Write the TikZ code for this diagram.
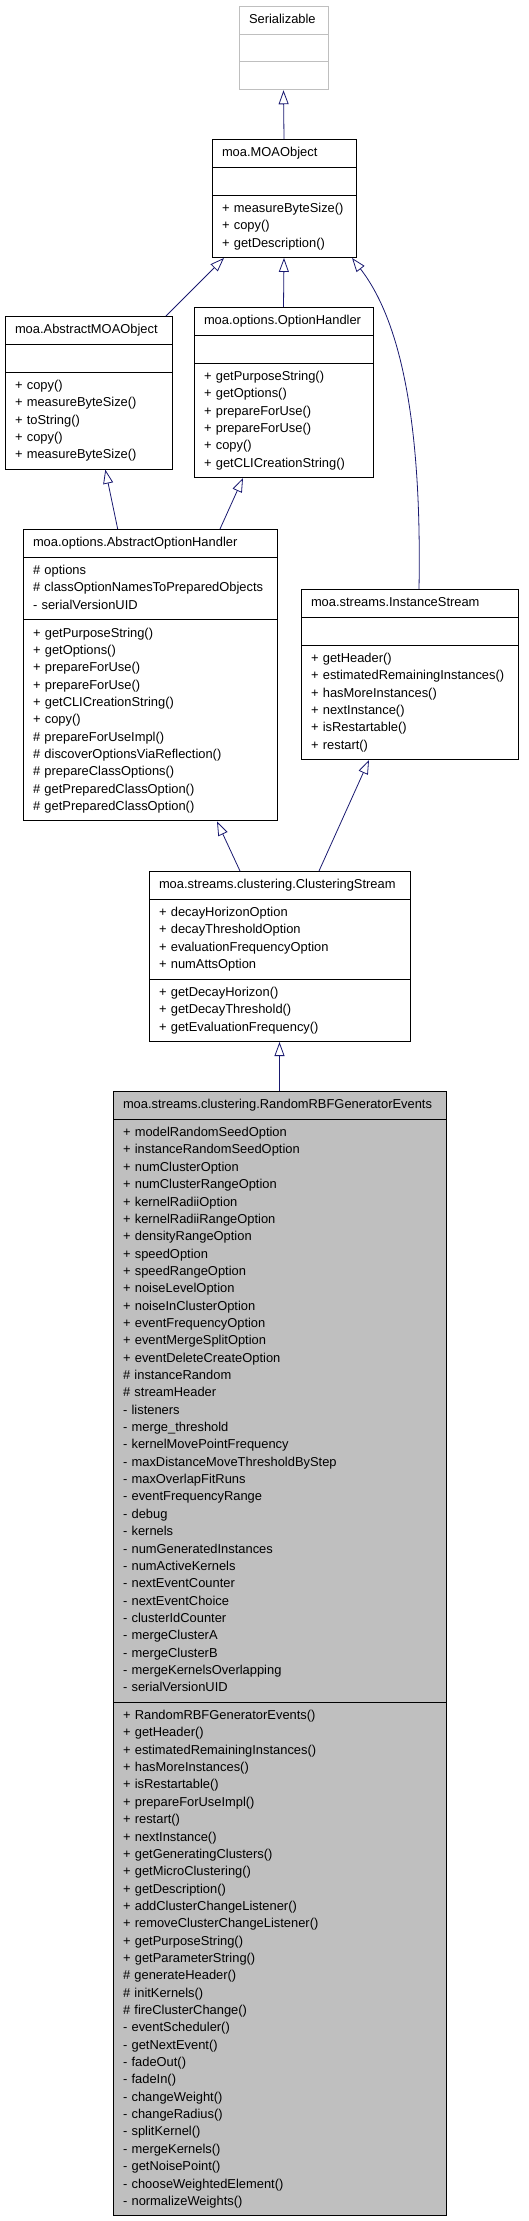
\documentclass[tikz,border=0pt]{standalone}
\usepackage{fontspec}
\setmainfont{Liberation Sans}
\usepackage{tikz}
\usepackage{xcolor}
\usetikzlibrary{shapes,arrows,positioning,calc,arrows.meta}

\definecolor{navy}{HTML}{191970}
\newcommand{\clsfont}{\fontsize{12.9}{17.35}\selectfont}

\begin{document}
\begin{tikzpicture}[x=1pt, y=1pt,
  cls/.style={rectangle split, rectangle split parts=3, draw=black, line width=1pt,
    anchor=north, align=left, inner xsep=10pt, inner ysep=4.7pt, font=\clsfont},
  inh/.style={navy, line width=0.8pt, -{Triangle[open, length=14pt, width=10pt]}}]
\useasboundingbox (0,0) rectangle (528,-2221);

\node[cls, draw=black!25, text width=69pt] (ser) at (283.5,-6)
  {\centering\strut Serializable
   \nodepart{two}\strut
   \nodepart{three}\strut};

\node[cls, text width=124pt] (moa) at (284,-139)
  {\centering\strut moa.MOAObject
   \nodepart{two}\strut
   \nodepart{three}\strut + measureByteSize()\\+ copy()\\+ getDescription()\strut};

\node[cls, text width=147pt] (amo) at (88.5,-316)
  {\centering\strut moa.AbstractMOAObject
   \nodepart{two}\strut
   \nodepart{three}\strut + copy()\\+ measureByteSize()\\+ toString()\\+ copy()\\+ measureByteSize()\strut};

\node[cls, text width=159pt] (opth) at (283.5,-307)
  {\centering\strut moa.options.OptionHandler
   \nodepart{two}\strut
   \nodepart{three}\strut + getPurposeString()\\+ getOptions()\\+ prepareForUse()\\+ prepareForUse()\\+ copy()\\+ getCLICreationString()\strut};

\node[cls, text width=234pt] (aoh) at (150,-529)
  {\centering\strut moa.options.AbstractOptionHandler
   \nodepart{two}\strut \# options\\\# classOptionNamesToPreparedObjects\\- serialVersionUID\strut
   \nodepart{three}\strut + getPurposeString()\\+ getOptions()\\+ prepareForUse()\\+ prepareForUse()\\+ getCLICreationString()\\+ copy()\\\# prepareForUseImpl()\\\# discoverOptionsViaReflection()\\\# prepareClassOptions()\\\# getPreparedClassOption()\\\# getPreparedClassOption()\strut};

\node[cls, text width=197pt] (ins) at (409.5,-589)
  {\centering\strut moa.streams.InstanceStream
   \nodepart{two}\strut
   \nodepart{three}\strut + getHeader()\\+ estimatedRemainingInstances()\\+ hasMoreInstances()\\+ nextInstance()\\+ isRestartable()\\+ restart()\strut};

\node[cls, text width=241pt] (cs) at (279.5,-871)
  {\centering\strut moa.streams.clustering.ClusteringStream
   \nodepart{two}\strut + decayHorizonOption\\+ decayThresholdOption\\+ evaluationFrequencyOption\\+ numAttsOption\strut
   \nodepart{three}\strut + getDecayHorizon()\\+ getDecayThreshold()\\+ getEvaluationFrequency()\strut};

\node[cls, fill=black!25, text width=313pt] (rbf) at (279.5,-1091)
  {\centering\strut moa.streams.clustering.RandomRBFGeneratorEvents
   \nodepart{two}\strut + modelRandomSeedOption\\+ instanceRandomSeedOption\\+ numClusterOption\\+ numClusterRangeOption\\+ kernelRadiiOption\\+ kernelRadiiRangeOption\\+ densityRangeOption\\+ speedOption\\+ speedRangeOption\\+ noiseLevelOption\\+ noiseInClusterOption\\+ eventFrequencyOption\\+ eventMergeSplitOption\\+ eventDeleteCreateOption\\\# instanceRandom\\\# streamHeader\\- listeners\\- merge\_threshold\\- kernelMovePointFrequency\\- maxDistanceMoveThresholdByStep\\- maxOverlapFitRuns\\- eventFrequencyRange\\- debug\\- kernels\\- numGeneratedInstances\\- numActiveKernels\\- nextEventCounter\\- nextEventChoice\\- clusterIdCounter\\- mergeClusterA\\- mergeClusterB\\- mergeKernelsOverlapping\\- serialVersionUID\strut
   \nodepart{three}\strut + RandomRBFGeneratorEvents()\\+ getHeader()\\+ estimatedRemainingInstances()\\+ hasMoreInstances()\\+ isRestartable()\\+ prepareForUseImpl()\\+ restart()\\+ nextInstance()\\+ getGeneratingClusters()\\+ getMicroClustering()\\+ getDescription()\\+ addClusterChangeListener()\\+ removeClusterChangeListener()\\+ getPurposeString()\\+ getParameterString()\\\# generateHeader()\\\# initKernels()\\\# fireClusterChange()\\- eventScheduler()\\- getNextEvent()\\- fadeOut()\\- fadeIn()\\- changeWeight()\\- changeRadius()\\- splitKernel()\\- mergeKernels()\\- getNoisePoint()\\- chooseWeightedElement()\\- normalizeWeights()\strut};

\draw[inh] (moa.north) -- (ser.south);
\draw[inh] ([xshift=77.5pt]amo.north) -- ([xshift=-60pt]moa.south);
\draw[inh] (opth.north) -- (moa.south);
\draw[inh] ([xshift=9.5pt]ins.north) .. controls +(3,169) and +(48,-62) .. ([xshift=68pt]moa.south);
\draw[inh] ([xshift=-32.3pt]aoh.north) -- ([xshift=16.8pt]amo.south);
\draw[inh] ([xshift=70pt]aoh.north) -- ([xshift=-40.5pt]opth.south);
\draw[inh] ([xshift=-39.5pt]cs.north) -- ([xshift=67pt]aoh.south);
\draw[inh] ([xshift=39.5pt]cs.north) -- ([xshift=-40.5pt]ins.south);
\draw[inh] (rbf.north) -- (cs.south);
\end{tikzpicture}
\end{document}
